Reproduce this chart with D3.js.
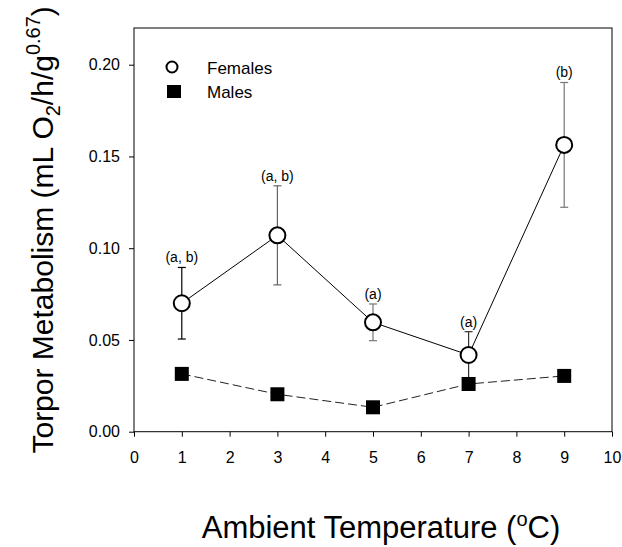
<!DOCTYPE html>
<html>
<head>
<meta charset="utf-8">
<script src="https://cdn.jsdelivr.net/npm/d3@7"></script>
<style>
  html, body { margin: 0; padding: 0; background: #fff; }
  svg { display: block; font-family: Arial, "Liberation Sans", sans-serif; }
</style>
</head>
<body>
<svg id="chart" width="622" height="547"></svg>
<script>
// ---- data ----
const temps = [1, 3, 5, 7, 9];
const femaleMean = [0.070, 0.107, 0.0596, 0.0418, 0.1563];
const femaleErr = [0.0195, 0.027, 0.010, 0.0127, 0.034];
const maleMean = [0.0315, 0.0204, 0.0133, 0.026, 0.0304];
const letters = ["(a, b)", "(a, b)", "(a)", "(a)", "(b)"];
const xTicks = [0, 1, 2, 3, 4, 5, 6, 7, 8, 9, 10];
const yTicks = [0, 0.05, 0.10, 0.15, 0.20];
const seriesNames = ["Females", "Males"];

// ---- styles ----
const errColors = ["#000", "#666", "#777", "#333", "#777"];

(function () {
const svg = d3.select("#chart");
const pL = 134, pR = 612, pT = 28, pB = 431.7;

const x = d3.scaleLinear().domain([0, 10]).range([pL, pR]);
const y = d3.scaleLinear().domain([0, 0.22]).range([pB, pT]);

// frame
svg.append("rect")
  .attr("x", pL).attr("y", pT)
  .attr("width", pR - pL).attr("height", pB - pT)
  .attr("fill", "none").attr("stroke", "#000").attr("stroke-width", 1);

// axes
const xAxis = d3.axisBottom(x).tickValues(xTicks).tickFormat(d3.format("d"))
  .tickSizeInner(5).tickSizeOuter(0).tickPadding(15);
const gx = svg.append("g").attr("transform", `translate(0,${pB})`).call(xAxis);
gx.select(".domain").remove();
gx.selectAll("text").attr("font-size", 16).attr("font-family", "Arial, 'Liberation Sans', sans-serif").attr("fill", "#000").attr("dy", "0.71em");

const yAxis = d3.axisLeft(y).tickValues(yTicks).tickFormat(d3.format(".2f"))
  .tickSizeInner(5).tickSizeOuter(0).tickPadding(9);
const gy = svg.append("g").attr("transform", `translate(${pL},0)`).call(yAxis);
gy.select(".domain").remove();
gy.selectAll("text").attr("font-size", 16).attr("font-family", "Arial, 'Liberation Sans', sans-serif").attr("fill", "#000");

// axis titles
const xt = svg.append("text")
  .attr("x", (pL + pR) / 2 + 8).attr("y", 538)
  .attr("text-anchor", "middle").attr("font-size", 31).attr("fill", "#000");
xt.append("tspan").text("Ambient Temperature (");
xt.append("tspan").attr("font-size", 20).attr("dy", -12).text("o");
xt.append("tspan").attr("dy", 12).text("C)");

const yt = svg.append("text")
  .attr("transform", `translate(53,${(pT + pB) / 2}) rotate(-90)`)
  .attr("text-anchor", "middle").attr("font-size", 30).attr("fill", "#000");
yt.append("tspan").text("Torpor Metabolism (mL O");
yt.append("tspan").attr("font-size", 20).attr("dy", 7).text("2");
yt.append("tspan").attr("dy", -7).text("/h/g");
yt.append("tspan").attr("font-size", 20).attr("dy", -13).text("0.67");
yt.append("tspan").attr("dy", 13).text(")");

// male dashed line
const line = d3.line().x(d => x(d[0])).y(d => y(d[1]));
svg.append("path")
  .datum(temps.map((t, i) => [t, maleMean[i]]))
  .attr("d", line).attr("fill", "none")
  .attr("stroke", "#222").attr("stroke-width", 1).attr("stroke-dasharray", "9,4");

// female solid line
svg.append("path")
  .datum(temps.map((t, i) => [t, femaleMean[i]]))
  .attr("d", line).attr("fill", "none")
  .attr("stroke", "#000").attr("stroke-width", 1);

// error bars
const eb = svg.append("g");
temps.forEach((t, i) => {
  const hi = femaleMean[i] + femaleErr[i], lo = femaleMean[i] - femaleErr[i];
  const c = errColors[i];
  eb.append("line").attr("x1", x(t)).attr("x2", x(t)).attr("y1", y(hi)).attr("y2", y(lo)).attr("stroke", c).attr("stroke-width", 1.2);
  eb.append("line").attr("x1", x(t) - 4).attr("x2", x(t) + 4).attr("y1", y(hi)).attr("y2", y(hi)).attr("stroke", c).attr("stroke-width", 1.2);
  eb.append("line").attr("x1", x(t) - 4).attr("x2", x(t) + 4).attr("y1", y(lo)).attr("y2", y(lo)).attr("stroke", c).attr("stroke-width", 1.2);
  svg.append("text").attr("x", x(t)).attr("y", y(hi) - 5)
    .attr("text-anchor", "middle").attr("font-size", 14).attr("fill", "#000").text(letters[i]);
});

// male squares
svg.selectAll("rect.male").data(temps).enter().append("rect")
  .attr("class", "male")
  .attr("x", d => x(d) - 7).attr("y", (d, i) => y(maleMean[i]) - 7)
  .attr("width", 14).attr("height", 14).attr("fill", "#000");

// female circles
svg.selectAll("circle.female").data(temps).enter().append("circle")
  .attr("class", "female")
  .attr("cx", d => x(d)).attr("cy", (d, i) => y(femaleMean[i]))
  .attr("r", 8).attr("fill", "#fff").attr("stroke", "#000").attr("stroke-width", 2);

// legend
svg.append("circle").attr("cx", 172).attr("cy", 67).attr("r", 5.5)
  .attr("fill", "#fff").attr("stroke", "#000").attr("stroke-width", 2);
svg.append("rect").attr("x", 167).attr("y", 85).attr("width", 14).attr("height", 13).attr("fill", "#000");
svg.append("text").attr("x", 207).attr("y", 74).attr("font-size", 17).attr("fill", "#000").text(seriesNames[0]);
svg.append("text").attr("x", 207).attr("y", 97.5).attr("font-size", 17).attr("fill", "#000").text(seriesNames[1]);
})();
</script>
</body>
</html>
